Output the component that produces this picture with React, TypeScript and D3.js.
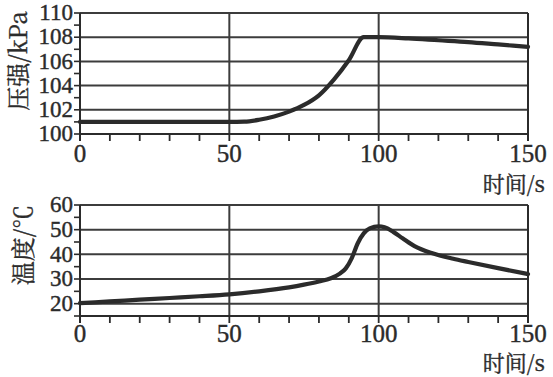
import React from "react";
import * as d3 from "d3";

const pressureTime = [0, 10, 20, 30, 40, 50, 55, 60, 65, 70, 75, 80, 85, 90, 95, 100, 110, 120, 130, 140, 150];
const pressureValues = [101, 101, 101, 101, 101, 101, 101.02, 101.18, 101.45, 101.85, 102.4, 103.2, 104.5, 106.1, 108, 108, 107.9, 107.75, 107.6, 107.4, 107.2];

const tempTime = [0, 10, 20, 30, 40, 50, 60, 70, 75, 80, 84, 87, 89, 91, 93, 95, 97, 100, 102, 105, 108, 112, 118, 125, 130, 140, 150];
const tempValues = [20.2, 20.9, 21.6, 22.3, 23, 23.8, 25, 26.6, 27.7, 29, 30.3, 32.2, 34.3, 38.5, 44.5, 48.5, 50.5, 51.3, 51, 49, 46.5, 43.3, 40.4, 38.2, 36.9, 34.4, 32];

const xTickLabels = [0, 50, 100, 150];
const pressureTicks = [100, 102, 104, 106, 108, 110];
const tempTicks = [20, 30, 40, 50, 60];
const xTitle = "时间/s";
const pressureTitle = "压强/kPa";
const tempTitle = "温度/℃";

const W = 553;
const H = 377;
const ink = "#2b2b2b";
const grid = "#3c3c3c";
const numFont = "Liberation Serif";
const cjkFont = "Noto Serif CJK SC";

type PanelProps = {
  times: number[];
  values: number[];
  yDomain: [number, number];
  yRange: [number, number];
  yTicks: number[];
  yMinorStep: number;
  yTitle: string;
  titleX: number;
  titleY: number;
  xLabelBaseline: number;
  xTitleBaseline: number;
};

const x = d3.scaleLinear().domain([0, 150]).range([80, 528]);

function Panel(p: PanelProps) {
  const y = d3.scaleLinear().domain(p.yDomain).range(p.yRange);
  const data = p.times.map((t, i) => [t, p.values[i]] as [number, number]);
  const line = d3
    .line<[number, number]>()
    .x((d) => x(d[0]))
    .y((d) => y(d[1]))
    .curve(d3.curveMonotoneX);
  const minor = d3.range(p.yDomain[0], p.yDomain[1] + 0.001, p.yMinorStep);
  const xMinor = d3.range(0, 151, 10);
  const [y0, y1] = p.yRange;
  return (
    <g>
      {p.yTicks.map((v) => (
        <line key={"g" + v} x1={x(0)} x2={x(150)} y1={y(v)} y2={y(v)} stroke={grid} strokeWidth={2} />
      ))}
      {[50, 100].map((v) => (
        <line key={"v" + v} x1={x(v)} x2={x(v)} y1={y1} y2={y0} stroke={grid} strokeWidth={2} />
      ))}
      <line x1={x(0)} x2={x(150)} y1={y0} y2={y0} stroke={ink} strokeWidth={2} />
      <line x1={x(0)} x2={x(150)} y1={y1} y2={y1} stroke={grid} strokeWidth={2} />
      <line x1={x(0)} x2={x(0)} y1={y1} y2={y0 + 7} stroke={ink} strokeWidth={2} />
      <line x1={x(150)} x2={x(150)} y1={y1} y2={y0 + 7} stroke={ink} strokeWidth={2} />
      {minor.map((v) => (
        <line key={"m" + v} x1={x(0) - 6} x2={x(0)} y1={y(v)} y2={y(v)} stroke={ink} strokeWidth={1.6} />
      ))}
      {xMinor.map((v) => (
        <line key={"xt" + v} x1={x(v)} x2={x(v)} y1={y0} y2={y0 + 7} stroke={ink} strokeWidth={1.8} />
      ))}
      {p.yTicks.map((v) => (
        <text key={"yl" + v} x={x(0) - 7} y={y(v) + 7.2} textAnchor="end" fontFamily={numFont} fontSize={23} fill={ink} stroke={ink} strokeWidth={0.4}>
          {v}
        </text>
      ))}
      {xTickLabels.map((v) => (
        <text key={"xl" + v} x={x(v)} y={p.xLabelBaseline} textAnchor="middle" fontFamily={numFont} fontSize={25} fill={ink} stroke={ink} strokeWidth={0.4}>
          {v}
        </text>
      ))}
      <text x={545} y={p.xTitleBaseline} textAnchor="end" fontFamily={cjkFont} fontSize={22} fill={ink} stroke={ink} strokeWidth={0.4}>
        {xTitle}
      </text>
      <text
        transform={`translate(${p.titleX},${p.titleY}) rotate(-90)`}
        textAnchor="middle"
        fontFamily={cjkFont}
        fontSize={24}
        fill={ink}
        stroke={ink}
        strokeWidth={0.4}
      >
        {p.yTitle}
      </text>
      <path d={line(data) || ""} fill="none" stroke={ink} strokeWidth={4.2} strokeLinejoin="round" strokeLinecap="round" />
    </g>
  );
}

export default function App() {
  return (
    <svg width={W} height={H} style={{ position: "absolute", left: 0, top: 0, background: "#fff" }}>
      <rect width={W} height={H} fill="#fff" />
      <Panel
        times={pressureTime}
        values={pressureValues}
        yDomain={[100, 110]}
        yRange={[134, 13]}
        yTicks={pressureTicks}
        yMinorStep={1}
        yTitle={pressureTitle}
        titleX={27}
        titleY={61}
        xLabelBaseline={162}
        xTitleBaseline={192}
      />
      <Panel
        times={tempTime}
        values={tempValues}
        yDomain={[15, 60]}
        yRange={[316, 205]}
        yTicks={tempTicks}
        yMinorStep={5}
        yTitle={tempTitle}
        titleX={32}
        titleY={245}
        xLabelBaseline={342}
        xTitleBaseline={371}
      />
    </svg>
  );
}
